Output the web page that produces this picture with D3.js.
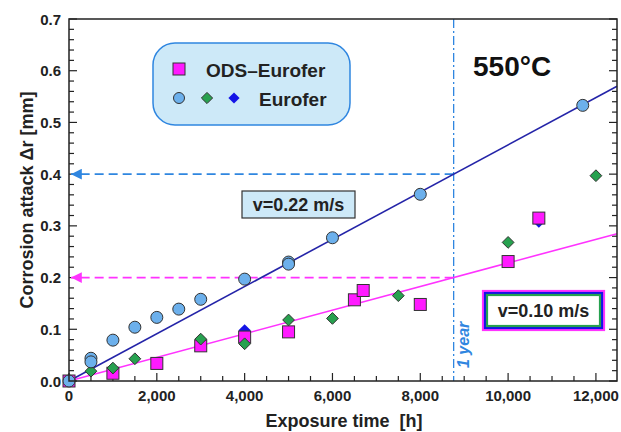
<!DOCTYPE html>
<html>
<head>
<meta charset="utf-8">
<script src="https://cdn.jsdelivr.net/npm/d3@7"></script>
<style>
  body { margin: 0; background: #fff; }
  text { font-family: "Liberation Sans", Arial, sans-serif; }
</style>
</head>
<body>
<div id="main"></div>
<script>
const ctx = {
    WIDTH: 621,
    HEIGHT: 432
}

// data: [hours, mm]
const euroferCircles = [[0, 0], [500, 0.044], [500, 0.037], [1000, 0.079], [1500, 0.104], [2000, 0.123],
  [2500, 0.139], [3000, 0.158], [4000, 0.197], [5000, 0.230], [5000, 0.226], [6000, 0.277],
  [8000, 0.361], [11700, 0.533]];
const euroferGreen = [[500, 0.019], [1000, 0.025], [1500, 0.043], [3000, 0.081], [4000, 0.072],
  [5000, 0.118], [6000, 0.121], [7500, 0.165], [10000, 0.268], [12000, 0.397]];
const euroferBlue = [[4000, 0.098], [10700, 0.308]];
const odsSquares = [[0, 0], [1000, 0.015], [2000, 0.034], [3000, 0.068], [4000, 0.085], [5000, 0.095],
  [6500, 0.157], [6700, 0.175], [8000, 0.148], [10000, 0.231], [10700, 0.315]];
const oneYear = 8760;
const fitAtOneYear = {fast: 0.40, slow: 0.20}; // v=0.22 and v=0.10 lines
const xTicks = [0, 2000, 4000, 6000, 8000, 10000, 12000];
const yTicks = [0, 0.1, 0.2, 0.3, 0.4, 0.5, 0.6, 0.7];

function populateSVGcanvas() {
  const svg = d3.select("#main svg");
  const x = d3.scaleLinear().domain([0, 12480]).range([69, 617]);
  const y = d3.scaleLinear().domain([0, 0.7]).range([381, 19]);
  const [x0, x1] = x.range();
  const [y0, y1] = y.range();

  // minor + major ticks, inward, left/right/bottom
  const g = svg.append("g").attr("stroke", "#222").attr("stroke-width", 1.2);
  d3.range(0, 12481, 500).forEach(v => {
    const len = v % 2000 === 0 ? 8 : 5;
    g.append("line").attr("x1", x(v)).attr("x2", x(v)).attr("y1", y0).attr("y2", y0 - len);
  });
  d3.range(0, 36).forEach(i => {
    const v = i * 0.02;
    const len = i % 5 === 0 ? 8 : 5;
    g.append("line").attr("x1", x0).attr("x2", x0 + len).attr("y1", y(v)).attr("y2", y(v));
    g.append("line").attr("x1", x1).attr("x2", x1 - len).attr("y1", y(v)).attr("y2", y(v));
  });

  // tick labels
  svg.append("g").selectAll("text").data(xTicks).join("text")
    .attr("x", d => x(d)).attr("y", 401).attr("text-anchor", "middle")
    .attr("font-size", 15).attr("font-weight", "bold").attr("fill", "#222")
    .text(d => d3.format(",")(d));
  svg.append("g").selectAll("text").data(yTicks).join("text")
    .attr("x", 61).attr("y", d => y(d) + 5.5).attr("text-anchor", "end")
    .attr("font-size", 15).attr("font-weight", "bold").attr("fill", "#222")
    .text(d => d.toFixed(1));

  // axis titles
  svg.append("text").attr("x", 344).attr("y", 427).attr("text-anchor", "middle")
    .attr("font-size", 18).attr("font-weight", "bold").attr("fill", "#222")
    .attr("xml:space", "preserve").text("Exposure time  [h]");
  svg.append("text").attr("transform", "translate(33,200) rotate(-90)").attr("text-anchor", "middle")
    .attr("font-size", 18).attr("font-weight", "bold").attr("fill", "#222")
    .text("Corrosion attack \u0394r [mm]");

  // arrow markers (tip at the end of the line)
  const defs = svg.append("defs");
  [["arrBlue", "#2f86e0"], ["arrPink", "#ff33ff"]].forEach(([id, c]) => {
    defs.append("marker").attr("id", id).attr("viewBox", "0 0 10 10").attr("refX", 10).attr("refY", 5)
      .attr("markerWidth", 6).attr("markerHeight", 6).attr("orient", "auto")
      .append("path").attr("d", "M0,0 L10,5 L0,10 Z").attr("fill", c);
  });

  // guide lines
  svg.append("line").attr("x1", x(oneYear)).attr("x2", x0 + 2).attr("y1", y(fitAtOneYear.fast)).attr("y2", y(fitAtOneYear.fast))
    .attr("stroke", "#2f86e0").attr("stroke-width", 1.8).attr("stroke-dasharray", "9,5").attr("marker-end", "url(#arrBlue)");
  svg.append("line").attr("x1", x(oneYear)).attr("x2", x0 + 2).attr("y1", y(fitAtOneYear.slow)).attr("y2", y(fitAtOneYear.slow))
    .attr("stroke", "#ff33ff").attr("stroke-width", 1.8).attr("stroke-dasharray", "9,5").attr("marker-end", "url(#arrPink)");
  svg.append("line").attr("x1", x(oneYear)).attr("x2", x(oneYear)).attr("y1", y1).attr("y2", y0)
    .attr("stroke", "#2f86e0").attr("stroke-width", 1.3).attr("stroke-dasharray", "9,3,2,3");
  svg.append("text").attr("transform", `translate(${x(oneYear) + 15},368) rotate(-90)`)
    .attr("font-size", 16).attr("font-style", "italic").attr("font-weight", "bold").attr("fill", "#2f86e0")
    .text("1 year");

  // fit lines
  const xEnd = x.domain()[1];
  svg.append("line").attr("x1", x(0)).attr("y1", y(0)).attr("x2", x(xEnd)).attr("y2", y(fitAtOneYear.fast / oneYear * xEnd))
    .attr("stroke", "#2424a8").attr("stroke-width", 1.6);
  svg.append("line").attr("x1", x(0)).attr("y1", y(0)).attr("x2", x(xEnd)).attr("y2", y(fitAtOneYear.slow / oneYear * xEnd))
    .attr("stroke", "#ff33ff").attr("stroke-width", 1.6);

  // markers
  const pts = svg.append("g").attr("stroke", "#333").attr("stroke-width", 1);
  pts.selectAll(".blue").data(euroferBlue).join("path")
    .attr("d", d3.symbol(d3.symbolDiamond2, 95)())
    .attr("transform", d => `translate(${x(d[0])},${y(d[1])})`).attr("fill", "#1414e6").attr("stroke", "none");
  pts.selectAll(".sq").data(odsSquares).join("rect")
    .attr("x", d => x(d[0]) - 6).attr("y", d => y(d[1]) - 6).attr("width", 12).attr("height", 12)
    .attr("fill", "#ff1aff");
  pts.selectAll(".green").data(euroferGreen).join("path")
    .attr("d", d3.symbol(d3.symbolDiamond2, 88)())
    .attr("transform", d => `translate(${x(d[0])},${y(d[1])})`).attr("fill", "#27a14f");
  pts.selectAll(".circ").data(euroferCircles).join("circle")
    .attr("cx", d => x(d[0])).attr("cy", d => y(d[1])).attr("r", 6).attr("fill", "#6cb0ec");

  // frame
  svg.append("rect").attr("x", x0).attr("y", y1).attr("width", x1 - x0).attr("height", y0 - y1)
    .attr("fill", "none").attr("stroke", "#222").attr("stroke-width", 1.5);

  // legend
  svg.append("rect").attr("x", 153).attr("y", 43).attr("width", 197).attr("height", 82).attr("rx", 22)
    .attr("fill", "#cde9f8").attr("stroke", "#2f86e0").attr("stroke-width", 1.5);
  svg.append("rect").attr("x", 173).attr("y", 63).attr("width", 12).attr("height", 12)
    .attr("fill", "#ff1aff").attr("stroke", "#333");
  svg.append("circle").attr("cx", 179).attr("cy", 98).attr("r", 5.5).attr("fill", "#6cb0ec").attr("stroke", "#333");
  svg.append("path").attr("d", d3.symbol(d3.symbolDiamond2, 80)()).attr("transform", "translate(207,98)")
    .attr("fill", "#27a14f").attr("stroke", "#333");
  svg.append("path").attr("d", d3.symbol(d3.symbolDiamond2, 80)()).attr("transform", "translate(234,98)")
    .attr("fill", "#1414e6");
  svg.append("text").attr("x", 206).attr("y", 77).attr("font-size", 19).attr("font-weight", "bold").attr("fill", "#222")
    .text("ODS\u2013Eurofer");
  svg.append("text").attr("x", 259).attr("y", 106).attr("font-size", 19).attr("font-weight", "bold").attr("fill", "#222")
    .text("Eurofer");

  // temperature
  svg.append("text").attr("x", 473).attr("y", 76).attr("font-size", 28).attr("font-weight", "bold").attr("fill", "#111")
    .text("550\u00b0C");

  // velocity boxes
  svg.append("rect").attr("x", 242).attr("y", 191).attr("width", 113).attr("height", 27)
    .attr("fill", "#cde9f8").attr("stroke", "#333").attr("stroke-width", 1.2);
  svg.append("text").attr("x", 298.5).attr("y", 211).attr("text-anchor", "middle")
    .attr("font-size", 18).attr("font-weight", "bold").attr("fill", "#222").text("v=0.22 m/s");
  [["#ff33ff", 0], ["#1414e6", 2], ["#27a14f", 4]].forEach(([c, k]) => {
    svg.append("rect").attr("x", 483 + k).attr("y", 291 + k).attr("width", 121 - 2 * k).attr("height", 39 - 2 * k)
      .attr("fill", k === 4 ? "#fff" : "none").attr("stroke", c).attr("stroke-width", 2.2);
  });
  svg.append("text").attr("x", 543.5).attr("y", 317).attr("text-anchor", "middle")
    .attr("font-size", 18).attr("font-weight", "bold").attr("fill", "#222").text("v=0.10 m/s");
}

function createViz(){
    let svgEl = d3.select("#main").append("svg");
    svgEl.attr("width", ctx.WIDTH);
    svgEl.attr("height", ctx.HEIGHT);
    populateSVGcanvas();
}
createViz();
</script>
</body>
</html>
